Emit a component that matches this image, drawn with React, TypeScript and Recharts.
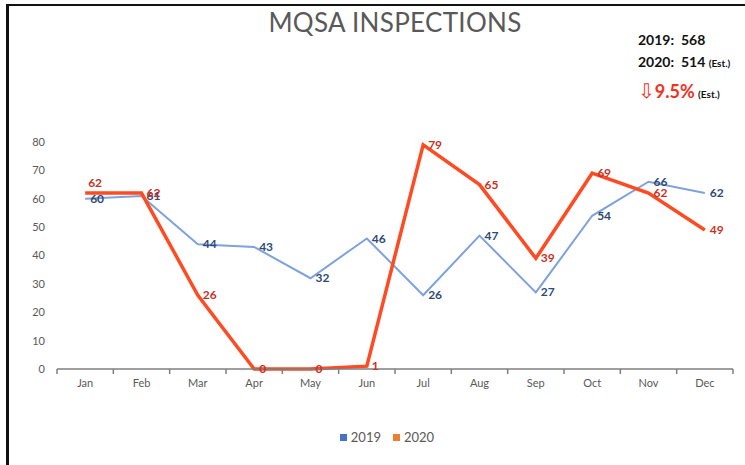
import { LineChart, Line, XAxis, YAxis, LabelList } from "recharts";

const months = ["Jan", "Feb", "Mar", "Apr", "May", "Jun", "Jul", "Aug", "Sep", "Oct", "Nov", "Dec"];
const inspections2019 = [60, 61, 44, 43, 32, 46, 26, 47, 27, 54, 66, 62];
const inspections2020 = [62, 62, 26, 0, 0, 1, 79, 65, 39, 69, 62, 49];
const yTicks = [0, 10, 20, 30, 40, 50, 60, 70, 80];

const data = months.map((month, i) => ({
  month,
  y2019: inspections2019[i],
  y2020: inspections2020[i],
}));

const FONT = "Lato, 'Open Sans', sans-serif";
const PLOT_LEFT = 57;
const PLOT_RIGHT = 733;
const BAND = (PLOT_RIGHT - PLOT_LEFT) / months.length;
const TICK_MARGIN = 10;

function MonthTick(props: any) {
  const { x, y, payload, index } = props;
  const axisY = y - TICK_MARGIN;
  return (
    <g>
      <line x1={x - BAND / 2} x2={x - BAND / 2} y1={axisY} y2={axisY + 5} stroke="#7f7f7f" strokeWidth={1.5} />
      {index === months.length - 1 && (
        <line x1={x + BAND / 2} x2={x + BAND / 2} y1={axisY} y2={axisY + 5} stroke="#7f7f7f" strokeWidth={1.5} />
      )}
      <text x={x} y={y} dy="0.71em" textAnchor="middle" fill="#595959" fontSize={11} fontFamily={FONT}>
        {payload.value}
      </text>
    </g>
  );
}

function makeLabel(color: string, raiseFirst: boolean) {
  return (props: any) => {
    const { x, y, value, index } = props;
    const up = raiseFirst && index === 0;
    return (
      <text
        x={up ? x + 3 : x + 5}
        y={up ? y - 9 : y + 1}
        fill={color}
        fontSize={12}
        fontWeight={700}
        fontFamily={FONT}
        dominantBaseline="middle"
      >
        {value}
      </text>
    );
  };
}

export default function App() {
  return (
    <div style={{ position: "fixed", left: 0, top: 0, width: 745, height: 465, background: "#fff", overflow: "hidden", fontFamily: FONT }}>
      <div style={{ position: "absolute", left: 6, top: 4, width: 745, height: 470, borderTop: "2px solid #111", borderLeft: "3px solid #111" }} />
      <div style={{ position: "absolute", left: 0, width: 790, top: 6, textAlign: "center", fontSize: 26, color: "#595959", letterSpacing: 0.3 }}>
        MQSA INSPECTIONS
      </div>
      <div style={{ position: "absolute", left: 638, top: 29, fontSize: 14, fontWeight: 700, color: "#111", lineHeight: "22px" }}>
        <div>2019:&nbsp; 568</div>
        <div>
          2020:&nbsp; 514 <span style={{ fontSize: 10 }}>(Est.)</span>
        </div>
        <div style={{ marginTop: 6, whiteSpace: "nowrap" }}>
          <span style={{ color: "#f0321e", fontSize: 20, fontFamily: "'DejaVu Sans', sans-serif", fontWeight: 400 }}>⇩</span>
          <span style={{ color: "#f0321e", fontSize: 18 }}>9.5%</span> <span style={{ fontSize: 10 }}>(Est.)</span>
        </div>
      </div>
      <div style={{ position: "absolute", top: 0, left: 0 }}>
        <LineChart width={745} height={465} data={data} margin={{ top: 142, right: 745 - PLOT_RIGHT, bottom: 66, left: 27 }}>
          <XAxis
            dataKey="month"
            height={30}
            padding={{ left: BAND / 2, right: BAND / 2 }}
            axisLine={{ stroke: "#7f7f7f", strokeWidth: 1.5 }}
            tickLine={false}
            tickSize={0}
            tickMargin={TICK_MARGIN}
            tick={<MonthTick />}
            interval={0}
          />
          <YAxis
            width={30}
            domain={[0, 80]}
            ticks={yTicks}
            axisLine={false}
            tickLine={false}
            tickMargin={6}
            tick={{ fill: "#595959", fontSize: 11, fontFamily: FONT }}
          />
          <Line type="linear" dataKey="y2019" stroke="#7da2dc" strokeWidth={2} dot={false} isAnimationActive={false}>
            <LabelList dataKey="y2019" content={makeLabel("#2e4a76", false)} />
          </Line>
          <Line type="linear" dataKey="y2020" stroke="#ff4a22" strokeWidth={3.5} dot={false} isAnimationActive={false}>
            <LabelList dataKey="y2020" content={makeLabel("#c8331f", true)} />
          </Line>
        </LineChart>
      </div>
      <div style={{ position: "absolute", top: 429, left: -8, width: 790, display: "flex", justifyContent: "center", gap: 12, fontSize: 13, color: "#595959" }}>
        <span style={{ display: "inline-flex", alignItems: "center", gap: 4 }}>
          <span style={{ width: 7, height: 7, background: "#4472c4" }} />
          2019
        </span>
        <span style={{ display: "inline-flex", alignItems: "center", gap: 4 }}>
          <span style={{ width: 7, height: 7, background: "#ed7d31" }} />
          2020
        </span>
      </div>
    </div>
  );
}
